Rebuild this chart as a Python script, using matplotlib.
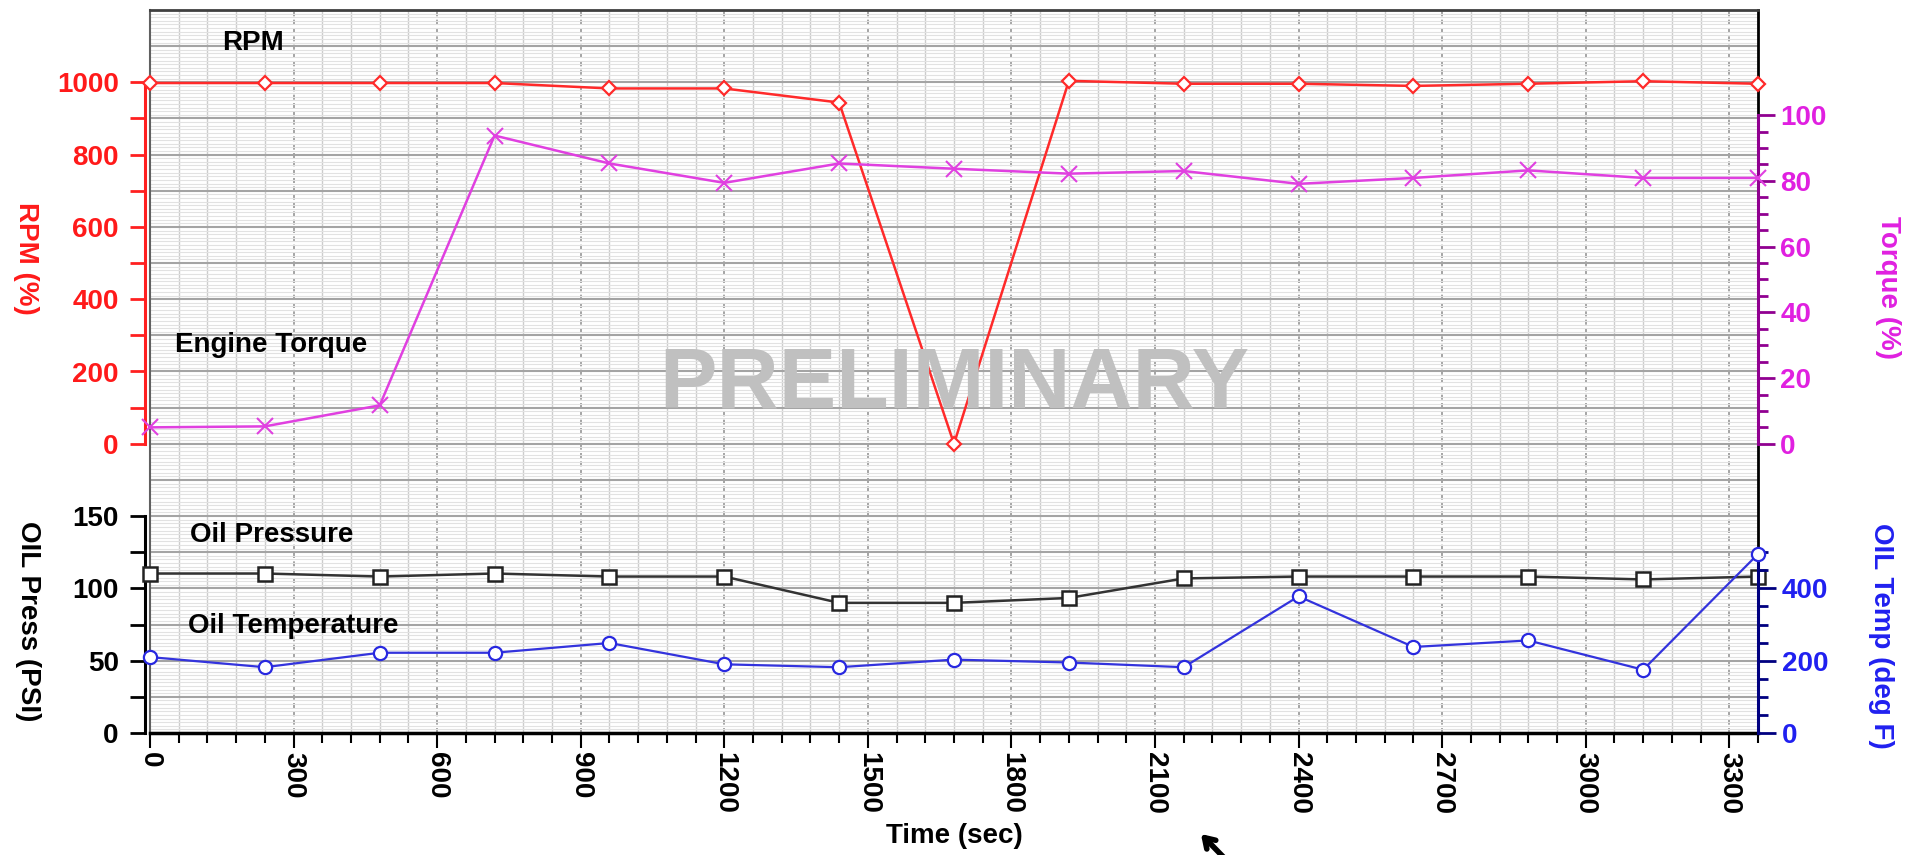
import numpy as np
import matplotlib
matplotlib.use('Agg')
import matplotlib.pyplot as plt

# values
time_s = [0, 240, 480, 720, 960, 1200, 1440, 1680, 1920, 2160, 2400, 2640, 2880, 3120, 3360]
rpm = [998, 998, 998, 998, 983, 983, 944, 0, 1004, 996, 996, 990, 996, 1003, 996]
torque = [5.0, 5.3, 11.7, 93.8, 85.3, 79.4, 85.3, 83.7, 82.2, 83.0, 79.1, 80.9, 83.2, 80.9, 80.9]
oil_press = [110.3, 110.3, 108.2, 110.3, 108.2, 108.2, 90.0, 90.0, 93.4, 106.9, 108.2, 108.2, 108.2, 106.2, 108.2]
oil_temp = [210, 182, 222, 222, 249, 190, 182, 203, 195, 182, 378, 238, 256, 175, 495]

x_major = list(range(0, 3301, 300))
x_minor = list(range(0, 3361, 60))

plt.rcParams['font.family'] = 'Liberation Sans'
plt.rcParams['font.weight'] = 'bold'
plt.rcParams['axes.labelweight'] = 'bold'

W, H = 1919, 855
fig = plt.figure(figsize=(W / 100, H / 100), dpi=100)
rect = [150 / W, 1 - 733 / H, (1758 - 150) / W, (733 - 10) / H]

# background grid axes, y in grid units (20 rows)
ax = fig.add_axes(rect)
ax.set_xlim(0, 3360)
ax.set_ylim(0, 20)
ax.set_xticks(x_major)
ax.set_xticks(x_minor, minor=True)
ax.set_yticks(range(0, 21))
ax.set_yticks(np.arange(0, 20.001, 0.1), minor=True)
ax.grid(which='minor', axis='y', color='#e2e2e2', lw=0.8)
ax.grid(which='major', axis='y', color='#a4a4a4', lw=1.5)
ax.grid(which='minor', axis='x', color='#cccccc', lw=1.0)
ax.grid(which='major', axis='x', color='#959595', lw=1.2, ls=(0, (3, 2)))
ax.set_axisbelow(True)
ax.tick_params(axis='y', which='both', left=False, labelleft=False)
ax.tick_params(axis='x', which='major', length=11, width=1.5, labelsize=20, pad=3, labelrotation=270)
ax.tick_params(axis='x', which='minor', length=7, width=1.5)
ax.spines['top'].set_color('#404040')
ax.spines['top'].set_linewidth(2)
ax.spines['left'].set_color('#606060')
ax.spines['left'].set_linewidth(1.5)
ax.spines['right'].set_color('black')
ax.spines['right'].set_linewidth(2)
ax.spines['bottom'].set_color('black')
ax.spines['bottom'].set_linewidth(2.5)
ax.set_xlabel('Time (sec)', fontsize=20, fontweight='bold', labelpad=6)


def overlay(ylim, side, spine_col, lab_col, bounds, major, minor, maj_len, min_len, pad, offset=0):
    a = fig.add_axes(rect, facecolor='none', label=str(ylim))
    a.set_xlim(0, 3360)
    a.set_ylim(ylim)
    a.xaxis.set_visible(False)
    for s in a.spines.values():
        s.set_visible(False)
    sp = a.spines[side]
    sp.set_visible(True)
    sp.set_bounds(*bounds)
    sp.set_color(spine_col)
    sp.set_linewidth(2.2)
    if offset:
        sp.set_position(('outward', offset))
    a.yaxis.set_ticks_position(side)
    a.set_yticks(major)
    a.set_yticks(minor, minor=True)
    a.tick_params(axis='y', which='major', length=maj_len, width=2, color=spine_col,
                  labelcolor=lab_col, labelsize=20, pad=pad)
    a.tick_params(axis='y', which='minor', length=min_len, width=2, color=spine_col)
    return a


a_rpm = overlay((-800, 1200), 'left', '#ff2020', '#ff1a1a', (0, 1000),
                range(0, 1001, 200), range(0, 1001, 100), 11, 11, 8, offset=3.5)
a_trq = overlay((-88, 132), 'right', '#900090', '#e020e0', (0, 100),
                range(0, 101, 20), range(0, 101, 5), 12, 7, 4)
a_prs = overlay((0, 500), 'left', 'black', 'black', (0, 150),
                range(0, 151, 50), range(0, 151, 25), 11, 11, 8, offset=3.5)
a_tmp = overlay((0, 2000), 'right', '#000080', '#2020f0', (0, 500),
                range(0, 401, 200), range(0, 501, 50), 13, 7, 4)

a_rpm.plot(time_s, rpm, color='#ff2a2a', lw=1.8, marker='D', ms=7.5, mfc='white',
           mec='#ff2a2a', mew=1.6, clip_on=False, zorder=3)
a_trq.plot(time_s, torque, color='#e040e0', lw=1.8, marker='x', ms=12, mew=1.5,
           clip_on=False, zorder=3)
a_prs.plot(time_s, oil_press, color='#333333', lw=1.8, marker='s', ms=10, mfc='white',
           mec='#222222', mew=1.8, clip_on=False, zorder=3)
a_tmp.plot(time_s, oil_temp, color='#3333dd', lw=1.6, marker='o', ms=9.5, mfc='white',
           mec='#2828e0', mew=1.6, clip_on=False, zorder=3)

# series labels inside the plot
ax.text(150, 18.9, 'RPM', fontsize=20, color='black')
ax.text(52, 10.54, 'Engine Torque', fontsize=20, color='black')
ax.text(84, 5.28, 'Oil Pressure', fontsize=20, color='black')
ax.text(79, 2.77, 'Oil Temperature', fontsize=20, color='black')

a_tmp.text(1680, 9.0, 'PRELIMINARY', transform=ax.transData, fontsize=62,
           color='#c0c0c0', ha='center', va='baseline', zorder=10)

# axis titles
fig.text(26 / W, 1 - 258 / H, 'RPM (%)', color='#ff1a1a', fontsize=20,
         rotation=270, ha='center', va='center')
fig.text(28 / W, 1 - 621 / H, 'OIL Press (PSI)', color='black', fontsize=20,
         rotation=270, ha='center', va='center')
fig.text(1888 / W, 1 - 287 / H, 'Torque (%)', color='#e020e0', fontsize=20,
         rotation=270, ha='center', va='center')
fig.text(1881 / W, 1 - 636 / H, 'OIL Temp (deg F)', color='#2020f0', fontsize=20,
         rotation=270, ha='center', va='center')

# mouse cursor arrow at the bottom
ax.annotate('', xy=(1199, H - 832), xycoords='figure pixels',
            xytext=(1236, H - 870), textcoords='figure pixels',
            arrowprops=dict(arrowstyle='->,head_length=0.7,head_width=0.45', lw=4, color='black'),
            annotation_clip=False)

fig.savefig('out.png', dpi=100)
